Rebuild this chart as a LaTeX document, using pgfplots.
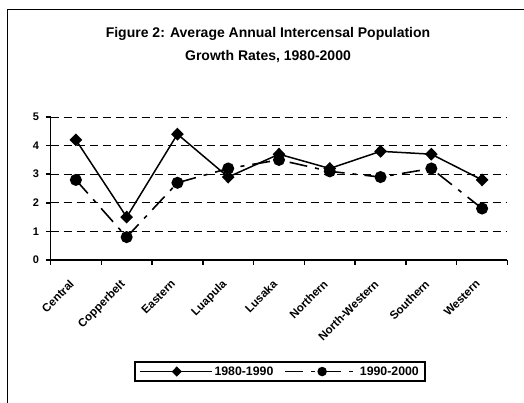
\documentclass[border=0pt]{standalone}
\usepackage{pgfplots}
\pgfplotsset{compat=1.18}
\usepackage{fontspec}
\setmainfont{Liberation Sans}
\begin{document}
\begin{tikzpicture}
\useasboundingbox (0pt,0pt) rectangle (524pt,-403pt);
\fill[white] (0pt,0pt) rectangle (524pt,-403pt);
\draw[line width=1.3pt] (7.3pt,-403pt) -- (7.3pt,-9.5pt) -- (524pt,-9.5pt);
\node[anchor=north, align=center, inner sep=0pt, font=\bfseries\fontsize{14}{23.5}\selectfont] at (268pt,-27pt)
  {Figure 2: Average Annual Intercensal Population\\Growth Rates, 1980-2000};
\begin{axis}[
  at={(50.5pt,-260pt)}, anchor=south west,
  scale only axis, width=457pt, height=143pt,
  xmin=-0.5, xmax=8.5, ymin=0, ymax=5,
  axis x line*=bottom, axis y line*=left,
  axis line style={line width=1.5pt, -},
  /pgf/number format/assume math mode=true,
  xtick={-0.5,0.5,...,8.5},
  xticklabels={},
  extra x ticks={0,...,8},
  extra x tick labels={Central,Copperbelt,Eastern,Luapula,Lusaka,Northern,North-Western,Southern,Western},
  extra x tick style={tick style={draw=none}, grid=none,
    tick label style={rotate=45, anchor=north east, font=\bfseries\fontsize{11.5}{12}\selectfont, xshift=-11.5pt, yshift=-1.5pt}},
  ytick={0,...,5},
  tick style={line width=1.5pt, black},
  major tick length=5pt,
  tick align=outside,
  ymajorgrids,
  grid style={black, line width=0.8pt, dash pattern=on 8pt off 5pt},
  y tick label style={font=\bfseries\fontsize{11}{13}\selectfont, xshift=-3pt},
  legend columns=2,
  legend style={at={(0.502,-0.78)}, anchor=center, draw=black, line width=1.5pt,
    font=\bfseries\fontsize{12.3}{13}\selectfont, inner sep=2.5pt, inner xsep=4pt,
    /tikz/every odd column/.append style={column sep=0pt},
    /tikz/every even column/.append style={column sep=9pt}},
  legend image code/.code={\draw[mark repeat=2,mark phase=2,#1, every mark/.append style={scale=0.75}] plot coordinates {(0pt,0pt) (37pt,0pt) (72pt,0pt)};},
]
\addplot[black, line width=1.5pt, mark=diamond*, mark size=5.4pt, mark options={solid, xscale=1.3}]
 coordinates {(0,4.2) (1,1.5) (2,4.4) (3,2.9) (4,3.7) (5,3.2) (6,3.8) (7,3.7) (8,2.8)};
\addlegendentry{1980-1990}
\addplot[black, line width=1.6pt, dash pattern=on 18pt off 8pt on 4pt off 8pt, mark=*, mark size=5.2pt, mark options={solid}]
 coordinates {(0,2.8) (1,0.8) (2,2.7) (3,3.2) (4,3.5) (5,3.1) (6,2.9) (7,3.2) (8,1.8)};
\addlegendentry{1990-2000}
\end{axis}
\end{tikzpicture}
\end{document}
